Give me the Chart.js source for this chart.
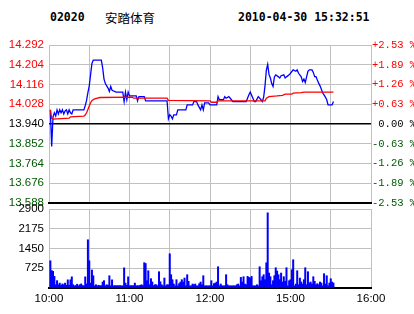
<!DOCTYPE html>
<html>
<head>
<meta charset="utf-8">
<script src="https://cdn.jsdelivr.net/npm/chart.js@4.4.1/dist/chart.umd.min.js"></script>
<style>
body { margin: 0; background: #fff; width: 414px; height: 314px; overflow: hidden; position: relative; }
canvas { position: absolute; left: 0; top: 0; }
.hd { position: absolute; top: 10px; line-height: 12px; font: bold 11.5px "DejaVu Sans Mono"; color: #000; white-space: pre; }
.nm { position: absolute; top: 8px; line-height: 14px; font: 12.5px "Noto Sans CJK SC"; color: #000; }
</style>
</head>
<body>
<div class="hd" id="code" style="left:50px"></div>
<div class="nm" id="name" style="left:105px"></div>
<div class="hd" id="stamp" style="left:238px"></div>
<canvas id="price" width="414" height="314"></canvas>
<canvas id="vol" width="414" height="314"></canvas>
<script>
let stock_code = '02020';
let stock_name = '安踏体育';
let stamp = '2010-04-30 15:32:51';
let prev_close = 13.940;

let price_ticks = [13.588, 13.676, 13.764, 13.852, 13.940, 14.028, 14.116, 14.204, 14.292];
let pct_ticks = ['-2.53 %', '-1.89 %', '-1.26 %', '-0.63 %', ' 0.00 %', '+0.63 %', '+1.26 %', '+1.89 %', '+2.53 %'];
let vol_ticks = [0, 725, 1450, 2175, 2900];
// one grid line every half hour, lunch break folded away (12:30 = 14:30)
let time_labels = ['10:00', '', '11:00', '', '12:00', '', '15:00', '', '16:00'];

// last price
let price_times = ['10:01','10:02','10:03','10:04','10:05','10:06','10:07','10:08','10:09','10:10',
  '10:11','10:12','10:13','10:14','10:15','10:16','10:17','10:18','10:26','10:27',
  '10:28','10:29','10:30','10:31','10:32','10:33','10:39','10:40','10:41','10:42',
  '10:44','10:45','10:46','10:47','10:50','10:55','10:56','10:57','10:58','10:59',
  '11:00','11:05','11:06','11:07','11:11','11:12','11:28','11:29','11:30','11:31',
  '11:32','11:33','11:35','11:36','11:42','11:43','11:47','11:48','11:50','11:51',
  '11:53','11:54','11:55','11:56','11:59','12:00','12:05','12:06','12:07','12:10',
  '12:11','12:12','12:14','12:16','12:17','12:27','12:29','12:30','14:32','14:33',
  '14:34','14:36','14:37','14:38','14:39','14:40','14:41','14:42','14:43','14:44',
  '14:45','14:46','14:47','14:48','14:49','14:51','14:52','14:53','14:55','14:56',
  '14:57','14:59','15:00','15:02','15:04','15:05','15:06','15:08','15:09','15:10',
  '15:11','15:12','15:13','15:14','15:16','15:17','15:18','15:19','15:20','15:21',
  '15:22','15:23','15:24','15:25','15:26','15:27','15:28','15:31','15:32'];
let prices = [14.003,13.840,13.972,13.990,13.976,14.003,13.985,14.003,13.990,14.003,
  13.985,13.998,14.003,13.985,14.003,13.990,13.985,14.003,14.003,14.022,
  14.045,14.080,14.110,14.160,14.210,14.225,14.225,14.190,14.140,14.120,
  14.100,14.085,14.107,14.090,14.082,14.082,14.040,14.082,14.048,14.082,
  14.065,14.065,14.043,14.062,14.062,14.043,14.043,13.963,13.981,13.975,
  13.963,13.981,13.981,14.003,14.003,14.025,14.025,14.040,14.040,14.025,
  14.003,14.025,14.003,14.034,14.034,14.025,14.025,14.062,14.048,14.048,
  14.062,14.055,14.062,14.048,14.040,14.040,14.070,14.082,14.055,14.040,
  14.040,14.062,14.055,14.048,14.040,14.060,14.110,14.180,14.206,14.160,
  14.145,14.120,14.107,14.150,14.159,14.150,14.145,14.155,14.159,14.145,
  14.150,14.159,14.166,14.181,14.175,14.181,14.166,14.150,14.129,14.140,
  14.125,14.150,14.175,14.181,14.181,14.170,14.151,14.151,14.136,14.122,
  14.110,14.095,14.078,14.070,14.060,14.048,14.025,14.025,14.040];

// average price
let avg_times = ['10:01','10:02','10:03','10:15','10:16','10:26','10:27','10:28','10:29','10:30',
  '10:31','10:32','10:34','10:38','11:02','11:03','11:28','11:29','12:00','12:01',
  '12:05','12:06','14:41','14:42','14:44','14:50','14:54','14:56','15:01','15:02',
  '15:08','15:10','15:32'];
let avg_prices = [14.003,13.965,13.962,13.966,13.972,13.975,13.980,13.990,14.005,14.020,
  14.035,14.045,14.052,14.058,14.060,14.055,14.055,14.045,14.043,14.037,
  14.037,14.043,14.043,14.055,14.062,14.065,14.068,14.073,14.073,14.078,
  14.080,14.082,14.082];

// volume per minute from 10:01 to 15:32
let volumes = [1000,640,610,430,120,270,120,180,100,150,
  120,180,100,300,100,300,410,120,80,90,
  140,80,120,150,90,80,410,150,1770,1000,
  180,660,450,80,120,80,100,80,90,220,
  270,80,120,100,450,80,300,80,90,80,
  90,80,90,80,80,740,180,100,410,80,
  90,80,90,180,80,90,80,100,120,90,
  930,900,268,634,120,342,220,90,120,120,
  80,598,230,120,80,366,80,120,120,1257,
  488,305,146,80,305,80,160,220,305,220,
  366,80,488,244,80,80,146,120,146,80,
  80,160,220,120,451,80,80,80,80,80,
  268,80,160,183,220,780,80,146,80,80,
  80,488,120,80,80,80,80,80,80,120,
  146,80,390,220,415,146,120,427,390,366,
  427,80,80,80,120,80,780,268,415,488,
  305,927,2760,549,415,120,268,451,744,622,
  488,305,549,220,415,244,744,80,268,305,
  671,1037,80,146,634,120,366,220,146,305,
  744,120,598,183,220,146,415,244,120,160,
  120,220,183,80,525,146,451,80,183,342,
  220,183];

document.getElementById('code').textContent = stock_code;
document.getElementById('name').textContent = stock_name;
document.getElementById('stamp').textContent = stamp;

// minutes since 10:00 on the trading clock
function to_min(t) {
  let [h, m] = t.split(':').map(Number);
  let v = h * 60 + m - 600;
  return v > 150 ? v - 120 : v;
}

let grid_color = '#c0c0c0';
let up_color = '#ff0000';
let down_color = '#005a00';
function tick_color(ctx) {
  let v = ctx.tick.value;
  if (Math.abs(v - prev_close) < 1e-6) return '#000';
  return v > prev_close ? up_color : down_color;
}
let time_ticks = s => { s.ticks = time_labels.map((_, i) => ({ value: i * 30 })); };

new Chart(document.getElementById('price'), {
  type: 'line',
  data: {
    datasets: [{
      data: avg_times.map((t, i) => ({ x: to_min(t), y: avg_prices[i] })),
      borderColor: '#ff0000', borderWidth: 1.3, pointRadius: 0, tension: 0, yAxisID: 'y'
    }, {
      data: price_times.map((t, i) => ({ x: to_min(t), y: prices[i] })),
      borderColor: '#0000ff', borderWidth: 1.3, pointRadius: 0, tension: 0, yAxisID: 'y'
    }]
  },
  options: {
    responsive: false, animation: false, events: [],
    layout: { padding: { top: 45, bottom: 111, left: 0, right: 0 } },
    plugins: { legend: { display: false }, tooltip: { enabled: false } },
    scales: {
      x: {
        type: 'linear', min: 0, max: 240,
        afterBuildTicks: time_ticks,
        ticks: { display: false },
        grid: { color: grid_color, drawTicks: false },
        border: { color: '#000', width: 2 }
      },
      y: {
        position: 'left', min: 13.588, max: 14.292,
        afterBuildTicks: s => { s.ticks = price_ticks.map(v => ({ value: v })); },
        afterFit: s => { s.width = 49; },
        ticks: {
          padding: 5, color: tick_color,
          font: { family: 'Liberation Sans', size: 11.5 },
          callback: v => v.toFixed(3)
        },
        grid: {
          drawTicks: false,
          color: ctx => Math.abs(ctx.tick.value - prev_close) < 1e-6 ? '#000' : grid_color,
          lineWidth: ctx => Math.abs(ctx.tick.value - prev_close) < 1e-6 ? 1.5 : 1
        },
        border: { display: false }
      },
      y2: {
        position: 'right', min: 13.588, max: 14.292,
        afterBuildTicks: s => { s.ticks = price_ticks.map(v => ({ value: v })); },
        afterFit: s => { s.width = 43; },
        ticks: {
          padding: 1, color: tick_color,
          font: { family: 'Liberation Mono', size: 10.5 },
          callback: (v, i) => pct_ticks[i]
        },
        grid: { display: false, drawTicks: false },
        border: { display: false }
      }
    }
  }
});

new Chart(document.getElementById('vol'), {
  type: 'bar',
  data: {
    datasets: [{
      data: volumes.map((v, i) => ({ x: i + 1, y: v })),
      backgroundColor: '#0000ff', barThickness: 1.35
    }]
  },
  options: {
    responsive: false, animation: false, events: [],
    layout: { padding: { top: 209, bottom: 6, left: 0, right: 43 } },
    plugins: { legend: { display: false }, tooltip: { enabled: false } },
    scales: {
      x: {
        type: 'linear', min: 0, max: 240, offset: false,
        afterBuildTicks: time_ticks,
        afterFit: s => { s.height = 20; },
        ticks: {
          autoSkip: false, maxRotation: 0, padding: 4, color: '#000',
          font: { family: 'Liberation Sans', size: 11.5 },
          callback: (v, i) => time_labels[i]
        },
        grid: { color: grid_color, drawTicks: false, offset: false },
        border: { color: '#000', width: 2 }
      },
      y: {
        min: 0, max: 2900,
        afterBuildTicks: s => { s.ticks = vol_ticks.map(v => ({ value: v })); },
        afterFit: s => { s.width = 49; },
        ticks: {
          padding: 5, color: '#000',
          font: { family: 'Liberation Sans', size: 11.5 },
          callback: v => v === 0 ? '' : String(v)
        },
        grid: { color: grid_color, drawTicks: false },
        border: { display: false }
      }
    }
  }
});
</script>
</body>
</html>
